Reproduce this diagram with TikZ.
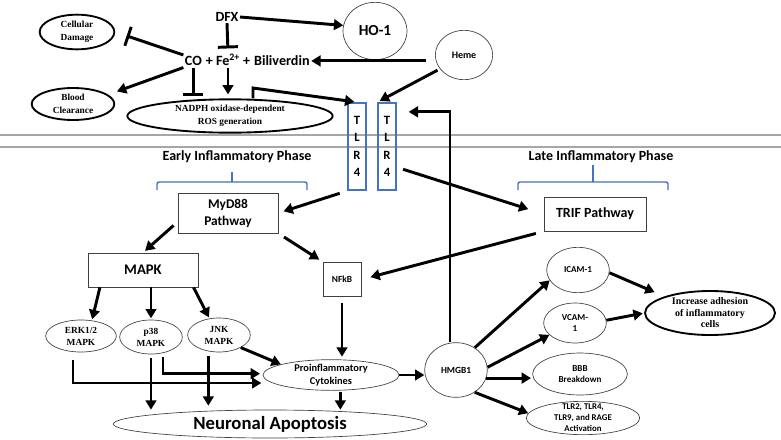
\documentclass[tikz,border=0pt]{standalone}
\usepackage{fontspec}
\setmainfont{Liberation Serif}
\setsansfont{Carlito}
\usetikzlibrary{arrows.meta,shapes.geometric,positioning}
\definecolor{tlrblue}{HTML}{4472C4}
\definecolor{memgray}{HTML}{A6A6A6}
\tikzset{
  sf/.style 2 args={font=\sffamily\bfseries\fontsize{#1}{#2}\selectfont, align=center},
  rm/.style 2 args={font=\rmfamily\bfseries\fontsize{#1}{#2}\selectfont, align=center},
  oval/.style={ellipse, draw=black!75, line width=0.5pt, inner sep=0pt},
  ovalk/.style={ellipse, draw=black, line width=1.4pt, inner sep=0pt},
  box/.style={rectangle, draw=black!75, line width=0.6pt, inner sep=0pt},
  tlr/.style={rectangle, draw=tlrblue, line width=1.5pt, inner sep=0pt,
    minimum width=13pt, minimum height=65pt},
  arr/.style={draw, line width=2.2pt, -{Triangle[length=7pt,width=8pt]}},
  inh/.style={draw, line width=2.2pt, -{Bar[width=15pt]}},
  mem/.style={draw=memgray, line width=1.1pt},
  brk/.style={draw=tlrblue, line width=1.1pt, rounded corners=1.5pt},
}

\begin{document}
\begin{tikzpicture}[x=0.75pt,y=-0.75pt]
  \useasboundingbox[fill=white] (0,0) rectangle (781,439);

  % membrane
  \draw[mem] (0,135) -- (781,135);
  \draw[mem] (0,147) -- (781,147);

  % heme breakdown
  \node[sf={10.5}{12},inner sep=1pt] (dfx) at (227,17) {DFX};
  \node[oval,minimum width=48pt,minimum height=43pt,label={[sf={11.5}{13}]center:HO-1}] (ho) at (375,31) {};
  \node[oval,minimum width=43pt,minimum height=37pt,label={[sf={7.5}{9}]center:Heme}] (heme) at (464,55) {};
  \node[sf={10.6}{12},inner xsep=1.5pt,inner ysep=1pt] (fe) at (228,60) {+ Fe\textsuperscript{2+} +};
  \node[sf={10.6}{12},inner sep=1pt,base left=0pt of fe] (co) {CO};
  \node[sf={10.6}{12},inner sep=1pt,base right=0pt of fe] (bili) {Biliverdin};
  \node[ovalk,minimum width=56pt,minimum height=26pt,label={[rm={7}{9.5}]center:Cellular\\Damage}] (damage) at (77,32) {};
  \node[ovalk,minimum width=62pt,minimum height=24pt,label={[rm={7}{9.5}]center:Blood\\Clearance}] (clear) at (73,104) {};
  \node[ovalk,minimum width=154pt,minimum height=25pt,label={[rm={7}{9.5}]center:NADPH oxidase-dependent\\ROS generation}] (nadph) at (230,116) {};
  \coordinate (kink) at (253,88);

  % receptors
  \node[tlr,sf={9.5}{13}] (tlrA) at (357,146.5) {T\\L\\R\\4};
  \node[tlr,sf={9.5}{13}] (tlrB) at (387,146.5) {T\\L\\R\\4};

  % phases
  \node[sf={10.5}{12}] (early) at (237,157) {Early Inflammatory Phase};
  \node[sf={10.5}{12}] (late) at (601,157) {Late Inflammatory Phase};
  \draw[brk] (157,190) -- (157,182) -- (307,182) -- (307,190);
  \draw[brk] (232,182) -- (232,172);
  \draw[brk] (518,190) -- (518,182) -- (668,182) -- (668,190);
  \draw[brk] (593,182) -- (593,165);

  \node[box,minimum width=75pt,minimum height=30pt,sf={10}{12.75}] (myd) at (228,213) {MyD88\\Pathway};
  \node[box,minimum width=76.5pt,minimum height=25.5pt,sf={10.5}{12}] (trif) at (595,214) {TRIF Pathway};
  \node[box,minimum width=82.5pt,minimum height=25.5pt,sf={11}{13}] (mapk) at (143,270) {MAPK};
  \node[box,minimum width=28.5pt,minimum height=26pt,sf={7}{8}] (nfkb) at (342,279.5) {NFkB};

  \node[oval,minimum width=53pt,minimum height=24pt,label={[rm={7}{9}]center:ERK1/2\\MAPK}] (erk) at (81,336) {};
  \node[oval,minimum width=47pt,minimum height=25.5pt,label={[rm={7}{9}]center:p38\\MAPK}] (pthree) at (151,337) {};
  \node[oval,minimum width=47pt,minimum height=25.5pt,label={[rm={7}{9}]center:JNK\\MAPK}] (jnk) at (219,335) {};
  \node[oval,minimum width=102pt,minimum height=23pt,label={[sf={7.8}{10.2}]center:Proinflammatory\\Cytokines}] (cyto) at (331,375) {};
  \node[oval,minimum width=235pt,minimum height=21pt,label={[sf={14}{16}]center:Neuronal Apoptosis}] (apop) at (270,424) {};
  \node[oval,minimum width=47pt,minimum height=41pt,label={[sf={7}{8}]center:HMGB1}] (hmgb) at (456,370) {};

  % HMGB1 targets
  \node[oval,minimum width=47pt,minimum height=34pt,label={[sf={6.8}{8}]center:ICAM-1}] (icam) at (578,270) {};
  \node[oval,minimum width=47pt,minimum height=30pt,label={[sf={6.8}{8.75}]center:VCAM-\\1}] (vcam) at (575,323) {};
  \node[oval,minimum width=71pt,minimum height=31.5pt,label={[sf={6.8}{8.75}]center:BBB\\Breakdown}] (bbb) at (580,374) {};
  \node[oval,minimum width=85pt,minimum height=25pt,label={[sf={6.6}{8.2}]center:{TLR2, TLR4,\\TLR9, and RAGE\\Activation}}] (tlrs) at (583,418) {};
  \node[ovalk,minimum width=97.5pt,minimum height=33pt,label={[rm={7.5}{8.6}]center:Increase adhesion\\of inflammatory\\cells}] (adh) at (710,313) {};

  % top arrows
  \draw[arr] (dfx.east) -- (ho.170);
  \draw[inh,shorten >=3pt] (dfx.south) -- (fe.north);
  \draw[arr,shorten <=7pt] (heme.west |- bili.east) -- (bili.east);
  \draw[arr,shorten <=2pt,shorten >=2pt] (heme.210) -- (tlrB.north west);
  \draw[inh,shorten >=9pt] (co.north west) -- (damage.east);
  \draw[arr,shorten >=7pt] (co.south west) -- (clear.15);
  \draw[inh,shorten >=2pt] (co.south) -- (co.south |- nadph.north);
  \draw[arr,shorten >=3pt] (fe.south) -- (fe.south |- nadph.north);
  \draw[arr,shorten >=2pt] (nadph.north -| kink) -- (kink) -- (tlrA.north);

  % TLR4 signalling
  \draw[arr,shorten <=6pt,shorten >=4pt] (tlrA.south west) -- (myd.east);
  \draw[arr,shorten <=5pt,shorten >=12pt] (tlrB.-65) -- (trif.west);
  \draw[arr,shorten <=6pt,shorten >=7pt] (trif.south west) -- (nfkb.east);
  \draw[arr,shorten <=4pt,shorten >=2pt] (myd.190) -- (mapk.north);
  \draw[arr,shorten <=5pt,shorten >=3pt] (myd.south east) -- (nfkb.north west);
  \draw[arr,shorten <=4pt,shorten >=2pt] (nfkb.south) -- (nfkb.south |- cyto.north);

  % MAPK
  \draw[arr,shorten >=1pt] (mapk.202) -- (erk.55);
  \draw[arr,shorten >=1pt] (pthree.north |- mapk.south) -- (pthree.north);
  \draw[arr,shorten >=1pt] (mapk.-19) -- (jnk.120);
  \draw[arr] (jnk.-30) -- (cyto.168);
  \draw[arr] ([xshift=-6pt,yshift=-6pt]erk.south) |- ([xshift=-1pt,yshift=-6pt]cyto.west);
  \draw[arr] ([xshift=9pt,yshift=-2pt]pthree.south) |- ([xshift=-2pt,yshift=1pt]cyto.west);
  \draw[arr,shorten <=3pt] (pthree.south) -- (pthree.south |- apop.north);
  \draw[arr,shorten <=3pt,shorten >=3pt] ([xshift=-8pt]jnk.south) -- ([xshift=-8pt]jnk.south |- apop.north);
  \draw[arr,shorten <=1pt] ([xshift=7pt]cyto.south) -- ([xshift=7pt]cyto.south |- apop.north);

  % HMGB1
  \draw[arr] (cyto.east) -- (cyto.east -| hmgb.west);
  \draw[arr,shorten >=9pt] ([xshift=-4.5pt]hmgb.north) |- ([yshift=26pt]tlrB.east);
  \draw[arr] (hmgb.50) -- (icam.200);
  \draw[arr] (hmgb.5) -- (vcam.205);
  \draw[arr,shorten >=1pt] (hmgb.-15) -- (hmgb.-15 -| bbb.west);
  \draw[arr] (hmgb.-50) -- (tlrs.175);
  \draw[arr,shorten >=8pt] (icam.-5) -- (adh.160);
  \draw[arr,shorten >=1pt] (vcam.5) -- (adh.west);
\end{tikzpicture}
\end{document}
